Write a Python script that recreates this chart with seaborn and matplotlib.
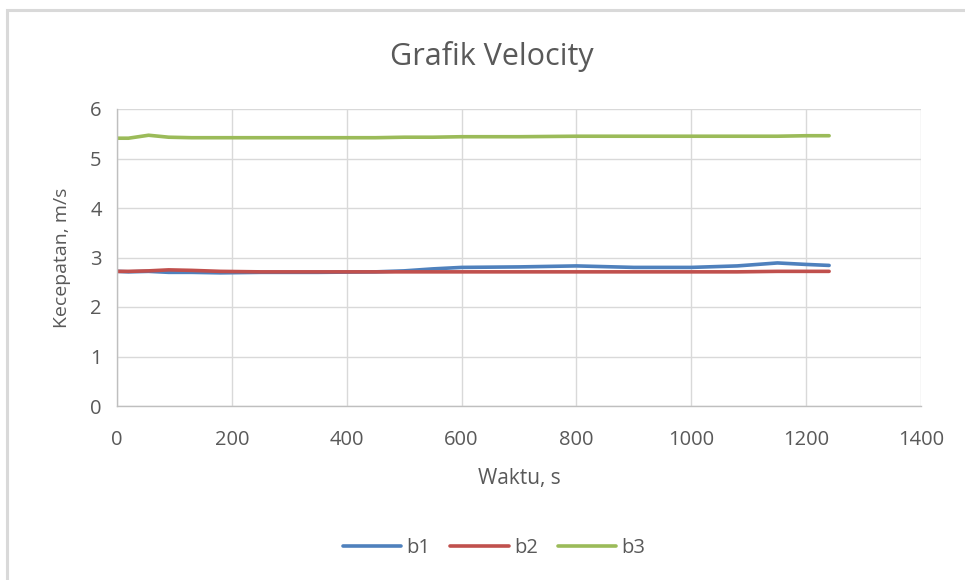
import matplotlib
matplotlib.use("Agg")
import matplotlib.pyplot as plt
from matplotlib.patches import Rectangle
import pandas as pd
import seaborn as sns

# Time stamps (s) and velocity readings (m/s) for the three runs
waktu = [0, 20, 55, 90, 130, 180, 250, 350, 450, 500, 550, 600, 700, 800,
         900, 1000, 1080, 1150, 1200, 1240]
b1 = [2.72, 2.71, 2.72, 2.70, 2.70, 2.69, 2.70, 2.70, 2.71, 2.73, 2.77, 2.80,
      2.81, 2.83, 2.80, 2.80, 2.83, 2.89, 2.86, 2.84]
b2 = [2.72, 2.72, 2.73, 2.75, 2.74, 2.72, 2.71, 2.71, 2.71, 2.71, 2.71, 2.71,
      2.71, 2.71, 2.71, 2.71, 2.71, 2.72, 2.72, 2.72]
b3 = [5.41, 5.41, 5.47, 5.43, 5.42, 5.42, 5.42, 5.42, 5.42, 5.43, 5.43, 5.44,
      5.44, 5.45, 5.45, 5.45, 5.45, 5.45, 5.46, 5.46]

series = ["b1", "b2", "b3"]
colors = {"b1": "#4F81BD", "b2": "#C0504D", "b3": "#9BBB59"}

x_ticks = [0, 200, 400, 600, 800, 1000, 1200, 1400]
y_ticks = [0, 1, 2, 3, 4, 5, 6]

df = pd.DataFrame({"Waktu": waktu, "b1": b1, "b2": b2, "b3": b3})
long = df.melt(id_vars="Waktu", value_vars=series,
               var_name="Seri", value_name="Kecepatan")

sns.set_theme(style="white")
plt.rcParams["font.family"] = ["Open Sans", "DejaVu Sans"]

fig = plt.figure(figsize=(9.65, 5.80), dpi=100)
fig.patch.set_facecolor("white")

# light outer frame of the chart area
fig.patches.append(Rectangle((7 / 965, -0.1), 1.2, 1 - 10 / 580 + 0.1,
                             transform=fig.transFigure, fill=False,
                             edgecolor="#D9D9D9", linewidth=2.2, zorder=0))

ax = fig.add_axes([117 / 965, 1 - 406 / 580, (921 - 117) / 965, (406 - 109) / 580])

sns.lineplot(data=long, x="Waktu", y="Kecepatan", hue="Seri",
             palette=colors, hue_order=series, linewidth=2.6, ax=ax,
             legend=False, estimator=None)

ax.set_xlim(0, 1400)
ax.set_ylim(0, 6)
ax.set_xticks(x_ticks)
ax.set_yticks(y_ticks)
ax.set_xticklabels([str(v) for v in x_ticks])
ax.set_yticklabels([str(v) for v in y_ticks])
ax.grid(True, color="#D9D9D9", linewidth=1.0)
ax.set_axisbelow(True)
for side in ["top", "right"]:
    ax.spines[side].set_visible(False)
for side in ["left", "bottom"]:
    ax.spines[side].set_color("#BFBFBF")
    ax.spines[side].set_linewidth(1.0)
ax.tick_params(axis="both", length=0, labelsize=14.5, colors="#595959")
ax.tick_params(axis="x", pad=17)
ax.tick_params(axis="y", pad=11)

ax.set_xlabel("Waktu, s", fontsize=15, color="#595959", labelpad=13)
ax.set_ylabel("Kecepatan, m/s", fontsize=14, color="#595959", labelpad=14)

fig.text(492 / 965, 1 - 57 / 580, "Grafik Velocity", ha="center", va="center",
         fontsize=22, color="#595959")

handles = [plt.Line2D([], [], color=colors[s], linewidth=2.6) for s in series]
fig.legend(handles, series, loc="center", bbox_to_anchor=(494 / 965, 1 - 548 / 580),
           ncol=3, frameon=False, fontsize=14.5, handlelength=2.9,
           handletextpad=0.25, columnspacing=1.0, labelcolor="#595959")

fig.savefig("out.png", dpi=100, facecolor="white")
